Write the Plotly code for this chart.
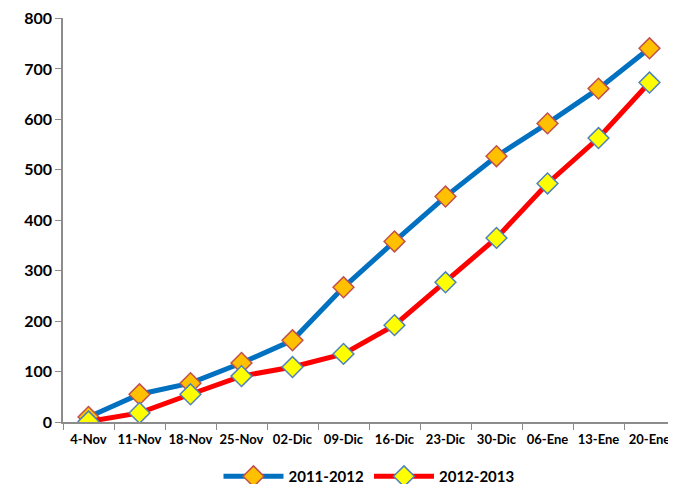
import plotly.graph_objects as go

categories = ["4-Nov", "11-Nov", "18-Nov", "25-Nov", "02-Dic", "09-Dic",
              "16-Dic", "23-Dic", "30-Dic", "06-Ene", "13-Ene", "20-Ene"]
serie_2011_2012 = [10, 55, 77, 117, 162, 267, 358, 447, 527, 592, 661, 741]
serie_2012_2013 = [1, 18, 55, 91, 109, 135, 192, 277, 365, 473, 563, 673]
y_ticks = [0, 100, 200, 300, 400, 500, 600, 700, 800]

fig = go.Figure()
fig.add_trace(go.Scatter(
    x=categories, y=serie_2011_2012, name="2011-2012", mode="lines+markers",
    line=dict(color="#0070C0", width=5),
    marker=dict(symbol="diamond", size=16, color="#FFC000",
                line=dict(color="#C0504D", width=1.5)),
))
fig.add_trace(go.Scatter(
    x=categories, y=serie_2012_2013, name="2012-2013", mode="lines+markers",
    line=dict(color="#FF0000", width=5),
    marker=dict(symbol="diamond", size=16, color="#FFFF00",
                line=dict(color="#4F81BD", width=1.5)),
))

fig.update_layout(
    width=668, height=476,
    margin=dict(l=55, r=1, t=10, b=62, autoexpand=False),
    paper_bgcolor="white", plot_bgcolor="white",
    font=dict(family="Lato, 'Open Sans', sans-serif", color="black", size=13),
    showlegend=True,
    legend=dict(orientation="h", x=0.5, xanchor="center", y=-0.135, yanchor="middle",
                font=dict(size=15, family="Lato", weight="bold"), itemwidth=60),
)
fig.update_xaxes(
    type="category", range=[-0.5, 11.5], tickson="boundaries",
    showline=True, linecolor="#8C8C8C", linewidth=1.5,
    ticks="outside", tickcolor="#8C8C8C", ticklen=6, tickangle=0,
    ticklabelstandoff=5,
    showgrid=False, zeroline=False, automargin=False,
    tickfont=dict(size=13, family="Lato", weight="bold"),
)
fig.update_yaxes(
    range=[0, 801], tickvals=y_ticks,
    showline=True, linecolor="#8C8C8C", linewidth=1.5,
    ticks="outside", tickcolor="#8C8C8C", ticklen=6,
    showgrid=False, zeroline=False, automargin=False,
    tickfont=dict(size=16, family="Lato", weight="bold"),
)

fig.write_html("out.html")
